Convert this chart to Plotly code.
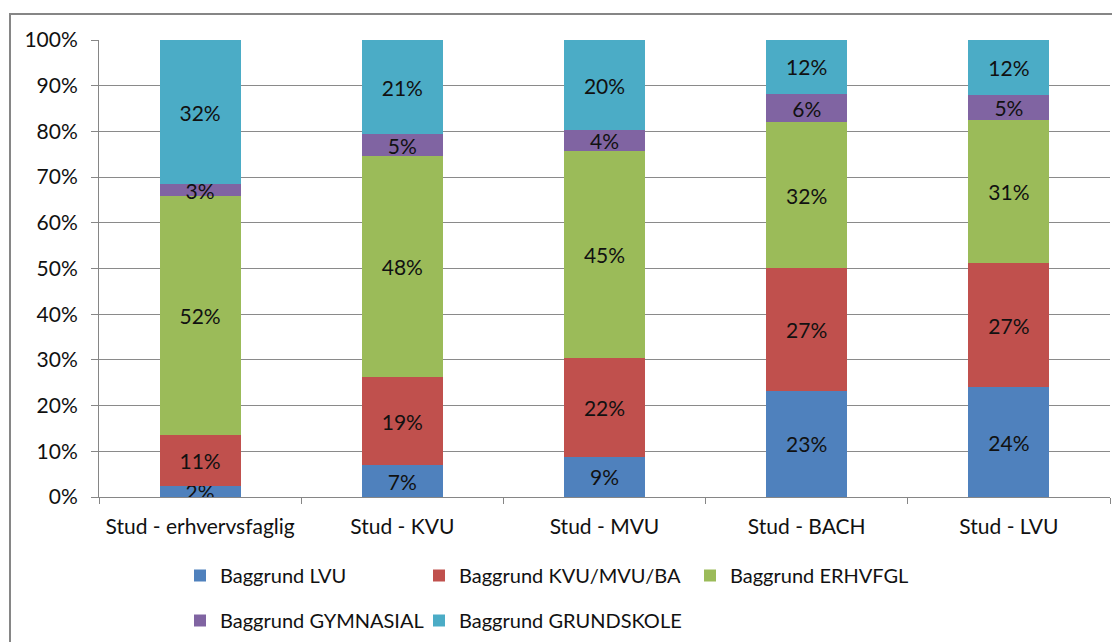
import plotly.graph_objects as go

categories = ["Stud - erhvervsfaglig", "Stud - KVU", "Stud - MVU", "Stud - BACH", "Stud - LVU"]

baggrund_lvu = [2.3, 6.9, 8.8, 23.3, 24.0]
baggrund_kvu_mvu_ba = [11.3, 19.4, 21.7, 26.8, 27.2]
baggrund_erhvfgl = [52.2, 48.3, 45.3, 31.9, 31.4]
baggrund_gymnasial = [2.6, 4.8, 4.4, 6.2, 5.4]
baggrund_grundskole = [31.6, 20.6, 19.8, 11.8, 12.0]

series_names = ["Baggrund LVU", "Baggrund KVU/MVU/BA", "Baggrund ERHVFGL",
                "Baggrund GYMNASIAL", "Baggrund GRUNDSKOLE"]
series_values = [baggrund_lvu, baggrund_kvu_mvu_ba, baggrund_erhvfgl,
                 baggrund_gymnasial, baggrund_grundskole]
y_ticks = [0, 10, 20, 30, 40, 50, 60, 70, 80, 90, 100]
y_tick_labels = ["0%", "10%", "20%", "30%", "40%", "50%", "60%", "70%", "80%", "90%", "100%"]

colors = ["#4F81BD", "#C0504D", "#9BBB59", "#8064A2", "#4BACC6"]
legend_ids = ["legend", "legend2", "legend3", "legend", "legend2"]

FONT = "Lato"
FS = 21
FS_LEG = 20
OFF = 8  # page body margin
W, H = 1120 - OFF, 642 - OFF
L, T = 99 - OFF, 40 - OFF
R = W - (1110 - OFF)
B = H - (497 - OFF)
PW = W - L - R
PH = H - T - B


def px_x(p):
    # p: pixel position in the screenshot
    return (p - OFF - L) / PW


def px_y(p):
    return (H - B - (p - OFF)) / PH


fig = go.Figure()
for name, vals, col, lg in zip(series_names, series_values, colors, legend_ids):
    fig.add_trace(go.Bar(
        x=categories, y=vals, name=name,
        marker=dict(color=col, line=dict(width=0)),
        texttemplate="%{y:.0f}%",
        textposition="inside",
        insidetextanchor="middle",
        constraintext="none",
        textangle=0,
        textfont=dict(family=FONT, size=FS, color="#111111"),
        legend=lg, legendgroup=name,
        hoverinfo="skip",
    ))

legend_common = dict(
    orientation="v", traceorder="grouped", tracegroupgap=16,
    font=dict(family=FONT, size=FS_LEG, color="#111111"),
    bgcolor="rgba(0,0,0,0)", borderwidth=0,
    xanchor="left", yanchor="top",
)

fig.update_layout(
    width=W, height=H,
    margin=dict(l=L, r=R, t=T, b=B, pad=0, autoexpand=False),
    paper_bgcolor="white", plot_bgcolor="white",
    barmode="stack", bargap=0.6,
    font=dict(family=FONT, size=FS, color="#111111"),
    showlegend=True,
    legend=dict(x=px_x(180), y=px_y(556), **legend_common),
    legend2=dict(x=px_x(419), y=px_y(556), **legend_common),
    legend3=dict(x=px_x(690), y=px_y(556), **legend_common),
    xaxis=dict(
        type="category", tickson="boundaries",
        ticks="outside", ticklen=6, tickcolor="#868686", tickwidth=1,
        showline=True, linecolor="#868686", linewidth=1,
        showgrid=False, zeroline=False,
        ticklabelstandoff=11,
        tickfont=dict(family=FONT, size=FS, color="#111111"),
        fixedrange=True,
    ),
    yaxis=dict(
        range=[0, 100], tickmode="array", tickvals=y_ticks, ticktext=y_tick_labels,
        ticks="outside", ticklen=7, tickcolor="#868686", tickwidth=1,
        showline=True, linecolor="#868686", linewidth=1,
        showgrid=True, gridcolor="#8a8a8a", gridwidth=1,
        zeroline=False,
        ticklabelstandoff=9,
        tickfont=dict(family=FONT, size=FS, color="#111111"),
        fixedrange=True,
    ),
    shapes=[dict(
        type="rect", xref="paper", yref="paper",
        x0=px_x(10), x1=px_x(1140), y0=px_y(670), y1=px_y(14),
        line=dict(color="#868686", width=2), fillcolor="rgba(0,0,0,0)",
        layer="below",
    )],
)

fig.write_html("out.html")
